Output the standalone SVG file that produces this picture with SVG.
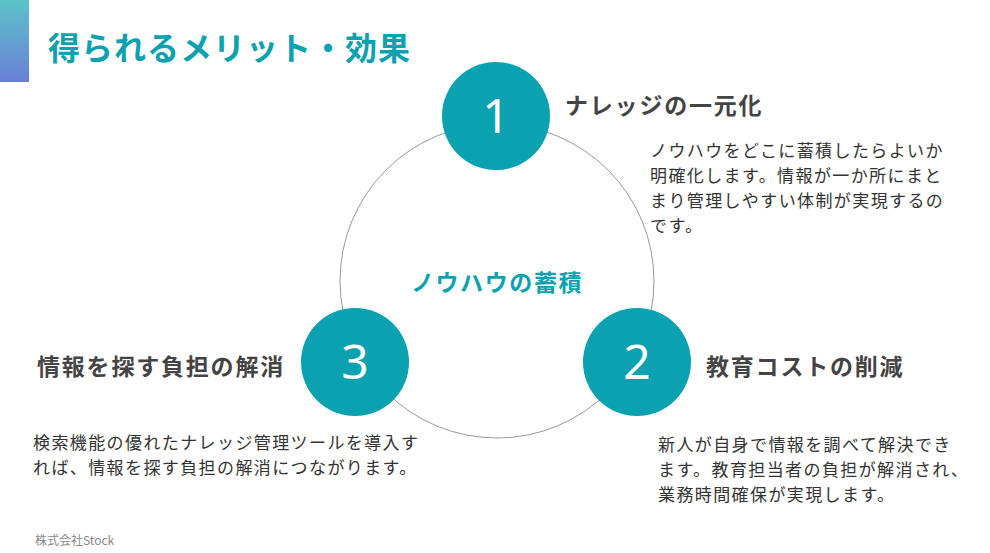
<svg xmlns="http://www.w3.org/2000/svg" width="990" height="553" viewBox="0 0 990 553">
<defs>
<linearGradient id="g" x1="0" y1="0" x2="0" y2="1"><stop offset="0" stop-color="#5cc3c9"/><stop offset="1" stop-color="#6a7fd6"/></linearGradient>
<style>
text{font-family:"Noto Sans CJK JP","Noto Sans",sans-serif}
.num{fill:#fff;font-size:48px;font-family:"Noto Sans",sans-serif;text-anchor:middle}
.nc{fill:#0aa2b0}
.h{fill:#444;font-size:23px;font-weight:bold;letter-spacing:1.8px}
.b{fill:#333;font-size:17px;letter-spacing:1.4px}
</style>
</defs>
<rect width="990" height="553" fill="#fff"/>
<rect x="0" y="0" width="29" height="82" fill="url(#g)"/>
<text x="48" y="60" font-size="32" font-weight="bold" fill="#0aa2b0" letter-spacing="1">得られるメリット・効果</text>
<g id="connectors"><circle cx="497" cy="281" r="157" fill="none" stroke="#999" stroke-width="1"/></g>
<text x="497" y="291" text-anchor="middle" font-size="23" font-weight="bold" fill="#0aa2b0" letter-spacing="1.6">ノウハウの蓄積</text>
<g id="n1"><circle class="nc" cx="496" cy="116" r="54"/><text class="num" x="496" y="133">1</text>
<text class="h" x="565" y="114">ナレッジの一元化</text>
<text class="b" x="650" y="157">ノウハウをどこに蓄積したらよいか</text>
<text class="b" x="650" y="182">明確化します。情報が一か所にまと</text>
<text class="b" x="650" y="207">まり管理しやすい体制が実現するの</text>
<text class="b" x="650" y="232">です。</text></g>
<g id="n2"><circle class="nc" cx="637" cy="362" r="54"/><text class="num" x="637" y="379">2</text>
<text class="h" x="706" y="375">教育コストの削減</text>
<text class="b" x="658" y="451">新人が自身で情報を調べて解決でき</text>
<text class="b" x="658" y="476">ます。教育担当者の負担が解消され、</text>
<text class="b" x="658" y="501">業務時間確保が実現します。</text></g>
<g id="n3"><circle class="nc" cx="355" cy="362" r="54"/><text class="num" x="355" y="379">3</text>
<text class="h" x="37" y="375">情報を探す負担の解消</text>
<text class="b" x="33" y="449">検索機能の優れたナレッジ管理ツールを導入す</text>
<text class="b" x="33" y="474">れば、情報を探す負担の解消につながります。</text></g>
<text x="35" y="545" font-size="12" fill="#888">株式会社Stock</text>
</svg>
